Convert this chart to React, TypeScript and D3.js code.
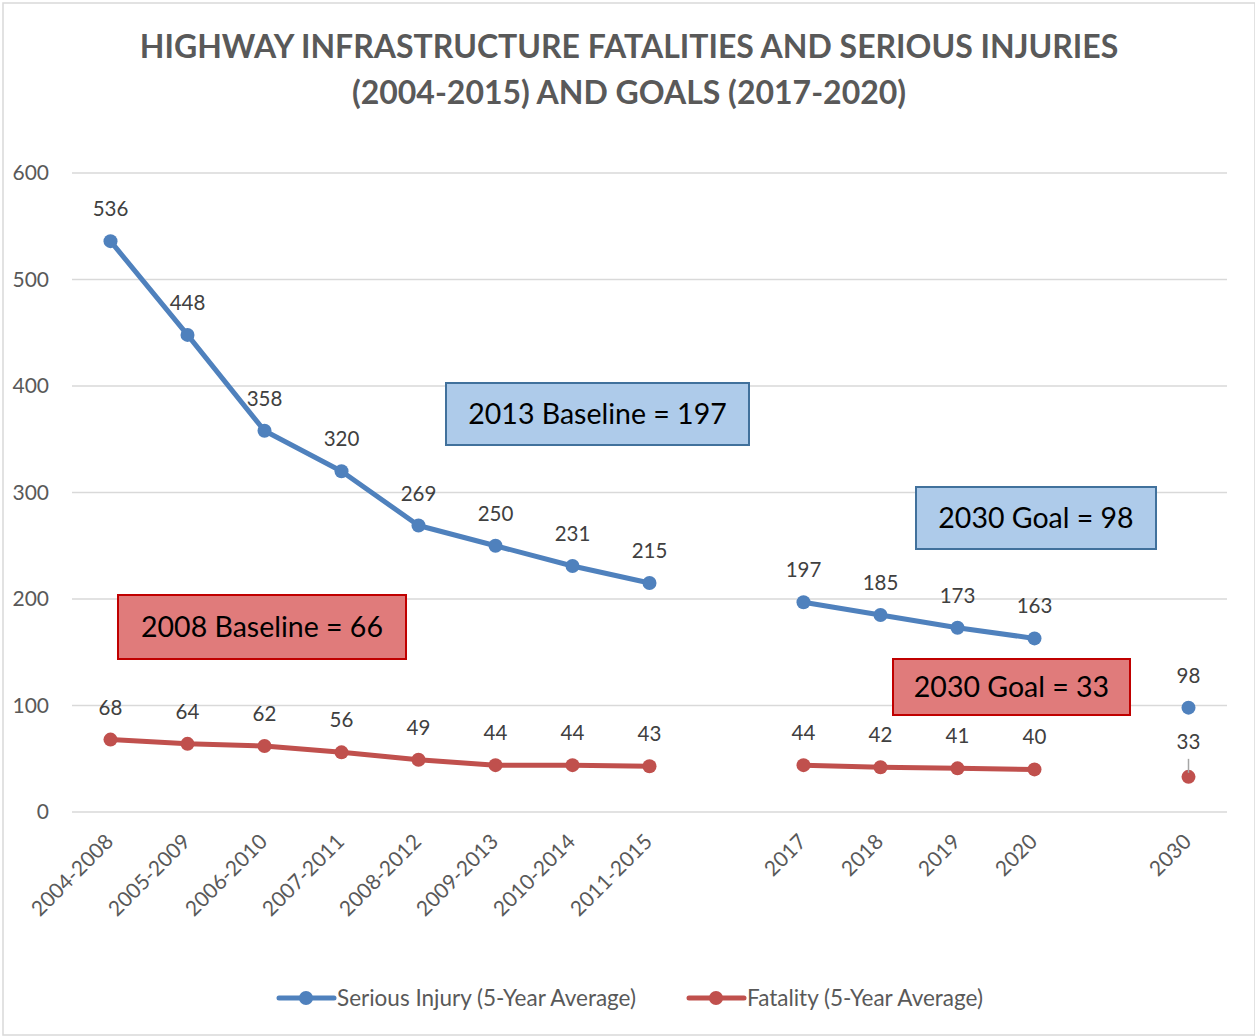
import React, { useEffect, useRef } from 'react';
import * as d3 from 'd3';

// categories (empty strings are the gaps in the axis)
const categories = [
  '2004-2008', '2005-2009', '2006-2010', '2007-2011', '2008-2012',
  '2009-2013', '2010-2014', '2011-2015', '', '2017', '2018', '2019', '2020', '', '2030'
];
const seriousInjury: (number | null)[] = [536, 448, 358, 320, 269, 250, 231, 215, null, 197, 185, 173, 163, null, 98];
const fatality: (number | null)[] = [68, 64, 62, 56, 49, 44, 44, 43, null, 44, 42, 41, 40, null, 33];
const yTicks = [0, 100, 200, 300, 400, 500, 600];
const titleLines = [
  'HIGHWAY INFRASTRUCTURE FATALITIES AND SERIOUS INJURIES',
  '(2004-2015) AND GOALS (2017-2020)'
];
const seriesNames = ['Serious Injury (5-Year Average)', 'Fatality (5-Year Average)'];

const W = 1255;
const H = 1036;
const BLUE = '#4f81bd';
const RED = '#c0504d';
const FONT = 'Lato, "Open Sans", sans-serif';

const App: React.FC = () => {
  const svgRef = useRef<SVGSVGElement>(null);

  useEffect(() => {
    if (!svgRef.current) return;
    const svg = d3.select(svgRef.current);
    svg.selectAll('*').remove();

    // chart frame
    svg.append('rect')
      .attr('x', 3).attr('y', 3)
      .attr('width', W - 3).attr('height', H - 4)
      .attr('fill', '#fff')
      .attr('stroke', '#d9d9d9')
      .attr('stroke-width', 1.5);

    // title
    svg.append('g')
      .selectAll('text')
      .data(titleLines)
      .enter()
      .append('text')
      .attr('x', 629)
      .attr('y', (_, i) => 58 + i * 46)
      .attr('text-anchor', 'middle')
      .attr('font-family', FONT)
      .attr('font-weight', 'bold')
      .attr('font-size', 32)
      .attr('fill', '#595959')
      .text(d => d);

    const x = d3.scaleBand<number>()
      .domain(d3.range(categories.length))
      .range([72, 1227]);
    const cx = (i: number) => (x(i) as number) + x.bandwidth() / 2;

    const y = d3.scaleLinear().domain([0, 600]).range([812, 173]);

    // gridlines
    svg.append('g')
      .selectAll('line')
      .data(yTicks)
      .enter()
      .append('line')
      .attr('x1', 72).attr('x2', 1227)
      .attr('y1', d => y(d)).attr('y2', d => y(d))
      .attr('stroke', '#d9d9d9')
      .attr('stroke-width', 1.5);

    // y tick labels
    svg.append('g')
      .selectAll('text')
      .data(yTicks)
      .enter()
      .append('text')
      .attr('x', 49)
      .attr('y', d => y(d) + 7)
      .attr('text-anchor', 'end')
      .attr('font-family', FONT)
      .attr('font-size', 21)
      .attr('fill', '#595959')
      .text(d => d);

    // x tick labels
    svg.append('g')
      .selectAll('text')
      .data(categories)
      .enter()
      .append('text')
      .attr('transform', (_, i) => `translate(${cx(i) + 4}, 843) rotate(-45)`)
      .attr('text-anchor', 'end')
      .attr('font-family', FONT)
      .attr('font-size', 21)
      .attr('fill', '#595959')
      .text(d => d);

    // annotation boxes
    const notes = [
      { text: '2013 Baseline = 197', x: 446, y: 383, w: 303, h: 62, fill: '#aecbea', stroke: '#41719c' },
      { text: '2030 Goal = 98', x: 916, y: 487, w: 240, h: 62, fill: '#aecbea', stroke: '#41719c' },
      { text: '2008 Baseline = 66', x: 118, y: 595, w: 288, h: 64, fill: '#e07b7b', stroke: '#c00000' },
      { text: '2030 Goal = 33', x: 893, y: 659, w: 237, h: 56, fill: '#e07b7b', stroke: '#c00000' }
    ];
    const ng = svg.append('g').selectAll('g').data(notes).enter().append('g');
    ng.append('rect')
      .attr('x', d => d.x).attr('y', d => d.y)
      .attr('width', d => d.w).attr('height', d => d.h)
      .attr('fill', d => d.fill)
      .attr('stroke', d => d.stroke)
      .attr('stroke-width', 2);
    ng.append('text')
      .attr('x', d => d.x + d.w / 2)
      .attr('y', d => d.y + d.h / 2 + 10)
      .attr('text-anchor', 'middle')
      .attr('font-family', FONT)
      .attr('font-size', 28.5)
      .attr('fill', '#000')
      .text(d => d.text);

    const series = [
      { values: seriousInjury, color: BLUE },
      { values: fatality, color: RED }
    ];

    const line = d3.line<number | null>()
      .defined(d => d != null)
      .x((_, i) => cx(i))
      .y(d => y(d as number));

    series.forEach(s => {
      const g = svg.append('g');
      g.append('path')
        .attr('d', line(s.values))
        .attr('fill', 'none')
        .attr('stroke', s.color)
        .attr('stroke-width', 5)
        .attr('stroke-linejoin', 'round');

      const pts = s.values
        .map((v, i) => ({ v, i }))
        .filter(p => p.v != null) as { v: number; i: number }[];

      g.selectAll('circle')
        .data(pts)
        .enter()
        .append('circle')
        .attr('cx', d => cx(d.i))
        .attr('cy', d => y(d.v))
        .attr('r', 7)
        .attr('fill', s.color);

      g.selectAll('text')
        .data(pts)
        .enter()
        .append('text')
        .attr('x', d => cx(d.i))
        .attr('y', d => y(d.v) - (s.color === RED && d.i === categories.length - 1 ? 28 : 25))
        .attr('text-anchor', 'middle')
        .attr('font-family', FONT)
        .attr('font-size', 20.5)
        .attr('fill', '#404040')
        .text(d => d.v);
    });

    // leader line for the 2030 fatality label
    const last = categories.length - 1;
    svg.append('line')
      .attr('x1', cx(last)).attr('x2', cx(last))
      .attr('y1', y(fatality[last] as number) - 18)
      .attr('y2', y(fatality[last] as number) - 4)
      .attr('stroke', '#a6a6a6')
      .attr('stroke-width', 1.5);

    // legend
    const legend = [
      { name: seriesNames[0], color: BLUE, x: 279 },
      { name: seriesNames[1], color: RED, x: 689 }
    ];
    const lg = svg.append('g').selectAll('g').data(legend).enter().append('g');
    lg.append('line')
      .attr('x1', d => d.x).attr('x2', d => d.x + 55)
      .attr('y1', 998).attr('y2', 998)
      .attr('stroke', d => d.color)
      .attr('stroke-width', 5)
      .attr('stroke-linecap', 'round');
    lg.append('circle')
      .attr('cx', d => d.x + 27).attr('cy', 998)
      .attr('r', 7)
      .attr('fill', d => d.color);
    lg.append('text')
      .attr('x', d => d.x + 58)
      .attr('y', 1006)
      .attr('font-family', FONT)
      .attr('font-size', 22.5)
      .attr('fill', '#595959')
      .text(d => d.name);
  }, []);

  return (
    <svg
      ref={svgRef}
      width={W}
      height={H}
      style={{ position: 'absolute', left: 0, top: 0 }}
    />
  );
};

export default App;
